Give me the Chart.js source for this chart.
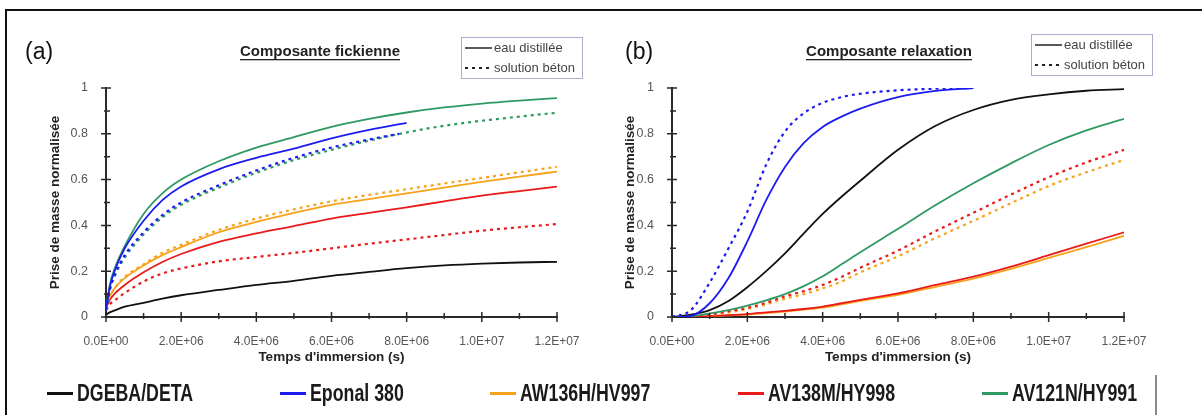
<!DOCTYPE html>
<html>
<head>
<meta charset="utf-8">
<script src="https://cdn.jsdelivr.net/npm/chart.js@4"></script>
<style>
  body { margin: 0; background: #fff; }
  #page { position: relative; width: 1202px; height: 415px; overflow: hidden; background: #fff; }
  #frame { position: absolute; left: 5px; top: 9px; width: 1400px; height: 600px; border-left: 2px solid #111; border-top: 2px solid #111; }
  canvas { position: absolute; top: 0; }
  #legend { position: absolute; left: 0; top: 376px; width: 1202px; height: 34px; }
  .item { position: absolute; top: 0; height: 34px; display: flex; align-items: center; }
  .swatch { width: 26px; height: 3px; margin-right: 4px; flex: none; }
  .label { font: bold 24px "Liberation Sans", Arial, sans-serif; color: #1a1a1a; transform: scaleX(0.74); transform-origin: left center; white-space: nowrap; }
  #sep { position: absolute; left: 1155px; top: 375px; width: 2px; height: 40px; background: #8a8a8a; }
</style>
</head>
<body>
<div id="page">
  <div id="frame"></div>
  <canvas id="fick" width="600" height="380" style="left:0px"></canvas>
  <canvas id="relax" width="602" height="380" style="left:600px"></canvas>
  <div id="legend"></div>
  <div id="sep"></div>
</div>
<script>
// resins and their colours
const resins = ['DGEBA/DETA', 'Eponal 380', 'AW136H/HV997', 'AV138M/HY998', 'AV121N/HY991'];
const resinColors = ['#111111', '#1c1cf2', '#f7a21b', '#ea1a1a', '#2f9962'];

// (a) Fickian component — immersion time (s)
const timeFick = [0, 1e5, 2.5e5, 5e5, 1e6, 1.5e6, 2e6, 3e6, 4e6, 5e6, 6e6, 7e6, 8e6, 9e6, 10e6, 11e6, 12e6];
const timeFickEponalBeton = [0, 1e5, 2.5e5, 5e5, 1e6, 1.5e6, 2e6, 3e6, 4e6, 5e6, 6e6, 7e6, 7.8e6];
const fickDgebaEau   = [0.01, 0.02, 0.03, 0.045, 0.062, 0.08, 0.095, 0.118, 0.14, 0.158, 0.18, 0.197, 0.213, 0.225, 0.233, 0.238, 0.241];
const fickEponalEau  = [0.03, 0.13, 0.21, 0.30, 0.42, 0.51, 0.57, 0.645, 0.695, 0.735, 0.78, 0.817, 0.848];
const fickEponalBeton = [0.03, 0.12, 0.19, 0.27, 0.37, 0.445, 0.50, 0.575, 0.64, 0.695, 0.74, 0.775, 0.80];
const fickAw136Eau   = [0.05, 0.09, 0.13, 0.17, 0.225, 0.27, 0.305, 0.37, 0.415, 0.455, 0.49, 0.515, 0.54, 0.565, 0.59, 0.613, 0.635];
const fickAw136Beton = [0.05, 0.09, 0.13, 0.175, 0.23, 0.28, 0.315, 0.38, 0.43, 0.47, 0.505, 0.533, 0.558, 0.583, 0.607, 0.632, 0.656];
const fickAv138Eau   = [0.04, 0.075, 0.105, 0.14, 0.195, 0.24, 0.275, 0.328, 0.365, 0.397, 0.43, 0.455, 0.479, 0.505, 0.53, 0.55, 0.569];
const fickAv138Beton = [0.03, 0.055, 0.075, 0.105, 0.155, 0.19, 0.212, 0.243, 0.262, 0.28, 0.30, 0.32, 0.339, 0.358, 0.377, 0.392, 0.406];
const fickAv121Eau   = [0.03, 0.14, 0.22, 0.31, 0.45, 0.54, 0.60, 0.68, 0.74, 0.785, 0.83, 0.865, 0.893, 0.915, 0.932, 0.945, 0.956];
const fickAv121Beton = [0.03, 0.115, 0.185, 0.26, 0.36, 0.435, 0.49, 0.565, 0.63, 0.685, 0.73, 0.77, 0.806, 0.835, 0.857, 0.875, 0.892];

// (b) relaxation component
const timeRelax = [0, 5e5, 1e6, 1.5e6, 2e6, 2.5e6, 3e6, 3.5e6, 4e6, 4.5e6, 5e6, 6e6, 7e6, 8e6, 9e6, 10e6, 11e6, 12e6];
const relaxDgebaEau   = [0, 0.01, 0.03, 0.07, 0.13, 0.2, 0.278, 0.365, 0.45, 0.525, 0.595, 0.73, 0.835, 0.904, 0.948, 0.972, 0.988, 0.995];
const relaxEponalEau  = [0, 0.005, 0.06, 0.17, 0.33, 0.51, 0.655, 0.76, 0.83, 0.875, 0.91, 0.96, 0.987, 1.0];
const relaxEponalBeton = [0, 0.03, 0.15, 0.30, 0.46, 0.665, 0.81, 0.89, 0.935, 0.96, 0.975, 0.99, 0.997, 1.0];
const relaxAv121Eau   = [0, 0.003, 0.016, 0.03, 0.05, 0.073, 0.10, 0.135, 0.178, 0.23, 0.283, 0.385, 0.489, 0.584, 0.671, 0.751, 0.815, 0.865];
const relaxAv138Beton = [0, 0, 0.01, 0.025, 0.04, 0.062, 0.09, 0.113, 0.14, 0.175, 0.215, 0.29, 0.375, 0.455, 0.535, 0.61, 0.675, 0.73];
const relaxAw136Beton = [0, 0, 0.008, 0.02, 0.035, 0.055, 0.08, 0.1, 0.125, 0.155, 0.195, 0.265, 0.345, 0.42, 0.497, 0.572, 0.632, 0.686];
const relaxAv138Eau   = [0, 0, 0.004, 0.008, 0.013, 0.02, 0.027, 0.035, 0.045, 0.06, 0.075, 0.103, 0.14, 0.176, 0.22, 0.27, 0.32, 0.37];
const relaxAw136Eau   = [0, 0, 0.003, 0.007, 0.011, 0.017, 0.024, 0.032, 0.041, 0.055, 0.07, 0.097, 0.132, 0.168, 0.21, 0.258, 0.305, 0.355];

const xTickStep = 2e6;
const xMinorStep = 1e6;
const yTickStep = 0.2;
const yMinorStep = 0.1;

const FONT = '"Liberation Sans", Arial, sans-serif';

function sci(v) {
    if (v === 0) return '0.0E+00';
    const e = Math.floor(Math.log10(v) + 1e-9);
    const m = v / Math.pow(10, e);
    return m.toFixed(1) + 'E+' + String(e).padStart(2, '0');
}

function series(times, values, resin, dotted) {
    return {
        data: values.map((y, i) => ({ x: times[i], y: y })),
        borderColor: resinColors[resin],
        borderWidth: dotted ? 2.2 : 1.8,
        borderDash: dotted ? [3, 4] : [],
        pointRadius: 0,
        cubicInterpolationMode: 'monotone',
        fill: false,
    };
}

// tick marks crossing the axes, major and minor
const axisTicks = {
    id: 'axisTicks',
    afterDraw(chart) {
        const ctx = chart.ctx;
        const xs = chart.scales.x, ys = chart.scales.y;
        const a = chart.chartArea;
        ctx.save();
        ctx.strokeStyle = '#2a2a2a';
        ctx.lineWidth = 1.5;
        ctx.beginPath();
        for (let v = 0; v <= 1.2e7 + 1; v += xMinorStep) {
            const px = xs.getPixelForValue(v);
            const major = Math.round(v / xMinorStep) % 2 === 0;
            ctx.moveTo(px, a.bottom - (major ? 5 : 4));
            ctx.lineTo(px, a.bottom + (major ? 5 : 2));
        }
        for (let v = 0; v <= 1.0001; v += yMinorStep) {
            const py = ys.getPixelForValue(v);
            const major = Math.round(v / yMinorStep) % 2 === 0;
            ctx.moveTo(a.left - (major ? 5 : 2), py);
            ctx.lineTo(a.left + (major ? 5 : 4), py);
        }
        ctx.stroke();
        ctx.restore();
    }
};

// panel letter, underlined heading and the medium key box
const panelDecor = {
    id: 'panelDecor',
    afterDraw(chart, args, o) {
        const ctx = chart.ctx;
        ctx.save();
        ctx.fillStyle = '#111';
        ctx.textBaseline = 'middle';
        ctx.textAlign = 'left';
        ctx.font = '23px ' + FONT;
        ctx.fillText(o.tag, 25, 53);

        ctx.font = 'bold 15px ' + FONT;
        ctx.textAlign = 'center';
        ctx.fillStyle = '#222';
        ctx.fillText(o.title, o.titleX, 52);
        const w = ctx.measureText(o.title).width;
        ctx.fillRect(o.titleX - w / 2, 59, w, 1.3);

        ctx.strokeStyle = '#b4a8cc';
        ctx.lineWidth = 1;
        ctx.strokeRect(o.boxX + 0.5, o.boxY + 0.5, o.boxW, o.boxH);

        const y1 = o.boxY + 11, y2 = o.boxY + 31;
        ctx.strokeStyle = '#222';
        ctx.lineWidth = 1.5;
        ctx.beginPath();
        ctx.moveTo(o.boxX + 4, y1);
        ctx.lineTo(o.boxX + 31, y1);
        ctx.stroke();
        ctx.setLineDash([3, 4]);
        ctx.lineWidth = 2;
        ctx.beginPath();
        ctx.moveTo(o.boxX + 4, y2);
        ctx.lineTo(o.boxX + 31, y2);
        ctx.stroke();
        ctx.setLineDash([]);

        ctx.fillStyle = '#444';
        ctx.textAlign = 'left';
        ctx.font = '13px ' + FONT;
        ctx.fillText(o.keys[0], o.boxX + 33, y1);
        ctx.fillText(o.keys[1], o.boxX + 33, y2);
        ctx.restore();
    }
};

function buildOptions(pad, yWidth, decor) {
    return {
        responsive: false,
        animation: false,
        layout: { padding: pad },
        plugins: {
            legend: { display: false },
            tooltip: { enabled: false },
            panelDecor: decor,
        },
        scales: {
            x: {
                type: 'linear',
                min: 0,
                max: 1.2e7,
                afterFit: s => { s.height = 52; },
                border: { display: true, color: '#2a2a2a', width: 2 },
                grid: { display: false },
                ticks: {
                    stepSize: xTickStep,
                    padding: 9,
                    color: '#555',
                    font: { family: FONT, size: 12 },
                    maxRotation: 0,
                    callback: v => sci(v),
                },
                title: {
                    display: true,
                    text: "Temps d'immersion (s)",
                    color: '#222',
                    font: { family: FONT, size: 13.5, weight: 'bold' },
                    padding: { top: 4, bottom: 4 },
                },
            },
            y: {
                min: 0,
                max: 1,
                afterFit: s => { s.width = yWidth; },
                border: { display: true, color: '#2a2a2a', width: 2 },
                grid: { display: false },
                ticks: {
                    stepSize: yTickStep,
                    padding: 10,
                    color: '#555',
                    font: { family: FONT, size: 12.5 },
                    callback: v => String(Math.round(v * 10) / 10),
                },
                title: {
                    display: true,
                    text: 'Prise de masse normalisée',
                    color: '#222',
                    font: { family: FONT, size: 13.5, weight: 'bold' },
                    padding: { top: 4, bottom: 4 },
                },
            },
        },
    };
}

const keys = ['eau distillée', 'solution béton'];

new Chart(document.getElementById('fick'), {
    type: 'line',
    data: {
        datasets: [
            series(timeFick, fickEponalEau, 1, false),
            series(timeFickEponalBeton, fickEponalBeton, 1, true),
            series(timeFick, fickAv121Eau, 4, false),
            series(timeFick, fickAv121Beton, 4, true),
            series(timeFick, fickAw136Eau, 2, false),
            series(timeFick, fickAw136Beton, 2, true),
            series(timeFick, fickAv138Eau, 3, false),
            series(timeFick, fickAv138Beton, 3, true),
            series(timeFick, fickDgebaEau, 0, false),
        ]
    },
    options: buildOptions({ left: 43, right: 43, top: 88, bottom: 11 }, 63,
        { tag: '(a)', title: 'Composante fickienne', titleX: 320, boxX: 461, boxY: 37, boxW: 121, boxH: 41, keys: keys }),
    plugins: [axisTicks, panelDecor],
});

new Chart(document.getElementById('relax'), {
    type: 'line',
    data: {
        datasets: [
            series(timeRelax, relaxEponalBeton, 1, true),
            series(timeRelax, relaxEponalEau, 1, false),
            series(timeRelax, relaxDgebaEau, 0, false),
            series(timeRelax, relaxAv121Eau, 4, false),
            series(timeRelax, relaxAv138Beton, 3, true),
            series(timeRelax, relaxAw136Beton, 2, true),
            series(timeRelax, relaxAv138Eau, 3, false),
            series(timeRelax, relaxAw136Eau, 2, false),
        ]
    },
    options: buildOptions({ left: 18, right: 78, top: 88, bottom: 11 }, 54,
        { tag: '(b)', title: 'Composante relaxation', titleX: 289, boxX: 431, boxY: 34, boxW: 121, boxH: 41, keys: keys }),
    plugins: [axisTicks, panelDecor],
});

// shared resin key along the bottom
const legendLefts = [47, 280, 490, 738, 982];
const legend = document.getElementById('legend');
resins.forEach((name, i) => {
    const item = document.createElement('div');
    item.className = 'item';
    item.style.left = legendLefts[i] + 'px';
    const sw = document.createElement('div');
    sw.className = 'swatch';
    sw.style.background = resinColors[i];
    const lb = document.createElement('div');
    lb.className = 'label';
    lb.textContent = name;
    item.appendChild(sw);
    item.appendChild(lb);
    legend.appendChild(item);
});
</script>
</body>
</html>
